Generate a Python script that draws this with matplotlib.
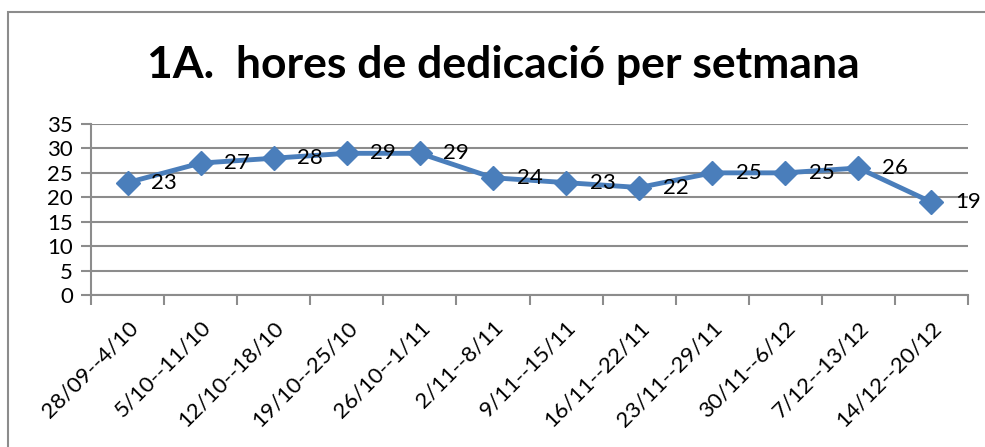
import matplotlib.pyplot as plt
from matplotlib.patches import Rectangle

weeks = ["28/09--4/10", "5/10--11/10", "12/10--18/10", "19/10--25/10", "26/10--1/11",
         "2/11--8/11", "9/11--15/11", "16/11--22/11", "23/11--29/11", "30/11--6/12",
         "7/12--13/12", "14/12--20/12"]
hours = [23, 27, 28, 29, 29, 24, 23, 22, 25, 25, 26, 19]
yticks = [0, 5, 10, 15, 20, 25, 30, 35]

plt.rcParams['font.family'] = ['Lato', 'DejaVu Sans']

W, H = 985, 447
fig = plt.figure(figsize=(W / 100, H / 100), dpi=100)
# plot area in pixels: x 91..968, y 124..295
ax = fig.add_axes([91 / W, 1 - 295 / H, (968 - 91) / W, (295 - 124) / H])

# outer chart frame
fig.patches.append(Rectangle((8 / W, -0.1), 1.2, 1 - 12 / H + 0.1, transform=fig.transFigure,
                             fill=False, edgecolor='#8c8c8c', linewidth=1.5))

x = list(range(len(weeks)))
ax.plot(x, hours, color='#4a7ebb', linewidth=3.5, marker='D', markersize=12,
        markeredgecolor='#4a7ebb', zorder=3)
for xi, yi in zip(x, hours):
    ax.annotate(str(yi), (xi, yi), xytext=(17, 0), textcoords='offset points',
                ha='left', va='center', fontsize=16, color='black')

ax.set_xlim(-0.5, len(weeks) - 0.5)
ax.set_ylim(0, 35)
ax.set_yticks(yticks)
ax.set_yticklabels([str(v) for v in yticks], fontsize=16)
ax.yaxis.grid(True, color='#8c8c8c', linewidth=1.5)
ax.set_axisbelow(True)

# category ticks sit between categories
ax.set_xticks([i - 0.5 for i in range(len(weeks) + 1)], minor=False)
ax.set_xticklabels([])
ax.set_xticks(x, minor=True)
ax.set_xticklabels(weeks, minor=True, rotation=45, ha='right', rotation_mode='anchor', fontsize=16)
ax.tick_params(axis='x', which='minor', length=0, pad=16)
ax.tick_params(axis='x', which='major', length=7, width=1.5, color='#8c8c8c')
ax.tick_params(axis='y', length=7, width=1.5, color='#8c8c8c', pad=6)

for side in ['top', 'right']:
    ax.spines[side].set_visible(False)
ax.spines['left'].set_color('#8c8c8c')
ax.spines['left'].set_linewidth(1.5)
ax.spines['bottom'].set_color('#8c8c8c')
ax.spines['bottom'].set_linewidth(1.5)

fig.text(503 / W, 1 - 65 / H, "1A.  hores de dedicació per setmana", ha='center', va='center',
         fontsize=32, fontweight='bold')

fig.savefig("out.png", dpi=100)
